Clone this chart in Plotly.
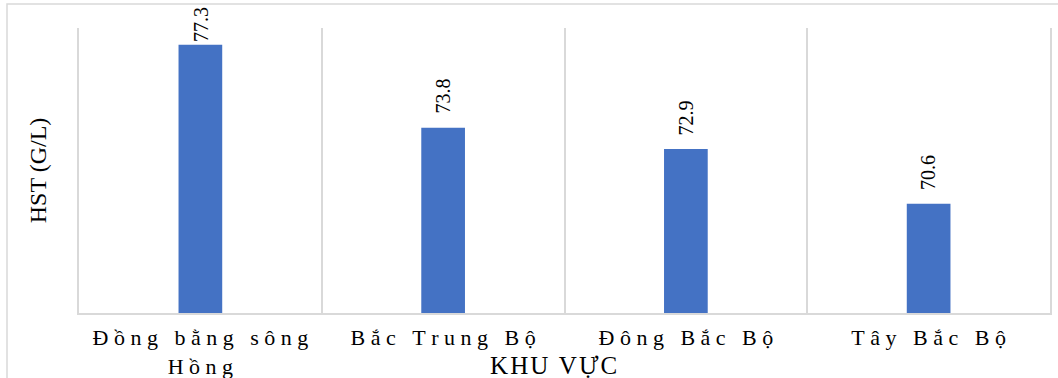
import plotly.graph_objects as go

categories = ["Đồng bằng sông<br>Hồng", "Bắc Trung Bộ", "Đông Bắc Bộ", "Tây Bắc Bộ"]
values = [77.3, 73.8, 72.9, 70.6]
x_title = "KHU VỰC"
y_title = "HST (G/L)"

def spaced(s, sp="\u2005"):
    out = []
    for line in s.split("<br>"):
        out.append(sp.join(list(line)))
    return "<br>".join(out)

FONT = "Liberation Serif"
W, H = 1058, 378
L, R, T, B = 79, 8, 28, 65
ymin, ymax = 66, 78
plot_h = H - T - B
plot_w = W - L - R

def px2fx(p):
    return (p - L) / plot_w
def py2fy(p):
    return (H - B - p) / plot_h

fig = go.Figure()
fig.add_trace(go.Bar(
    x=categories, y=values, width=0.18,
    marker=dict(color="#4472C4", line=dict(width=0)),
    hoverinfo="skip",
))

# value labels, rotated
lab_len = 38
for c, v in zip(categories, values):
    pix = T + (ymax - v) / (ymax - ymin) * plot_h
    shift = 12
    top = pix - shift - lab_len
    if top < 6:
        shift = pix - lab_len - 6
    fig.add_annotation(x=c, y=v, text=f"{v:.1f}", textangle=-90, showarrow=False,
                       yanchor="bottom", yshift=shift,
                       font=dict(family=FONT, size=20, color="#000000"))

# x-axis title
fig.add_annotation(xref="paper", yref="paper", x=px2fx(553), y=py2fy(365),
                   text=spaced(x_title, "\u200a"), showarrow=False, xanchor="center", yanchor="middle",
                   font=dict(family=FONT, size=25, color="#000000"))

# outer frame
fig.add_shape(type="rect", xref="paper", yref="paper",
              x0=px2fx(7), x1=px2fx(1070), y0=py2fy(4), y1=py2fy(390),
              line=dict(color="#d9d9d9", width=1.5), fillcolor="rgba(0,0,0,0)", layer="below")

fig.update_layout(
    width=W, height=H,
    margin=dict(l=L, r=R, t=T, b=B, autoexpand=False),
    paper_bgcolor="white", plot_bgcolor="white",
    showlegend=False,
    font=dict(family=FONT, color="#000000"),
    xaxis=dict(
        tickmode="array", tickvals=categories, ticktext=[spaced(c) for c in categories],
        tickson="boundaries", ticks="", showgrid=True, gridcolor="#d9d9d9", gridwidth=2,
        showline=True, linecolor="#d9d9d9", linewidth=2,
        tickfont=dict(family=FONT, size=22, color="#000000"),
        ticklabelstandoff=4,
        automargin=False, fixedrange=True,
    ),
    yaxis=dict(
        range=[ymin, ymax], showticklabels=False, showgrid=False, zeroline=False,
        showline=True, mirror=True, linecolor="#d9d9d9", linewidth=2, ticks="",
        title=dict(text=y_title, font=dict(family=FONT, size=24, color="#000000"), standoff=24),
        automargin=False, fixedrange=True,
    ),
)

fig.write_html("out.html", config={"displayModeBar": False},
               post_script="document.body.style.margin='0';document.body.style.overflow='hidden';")
